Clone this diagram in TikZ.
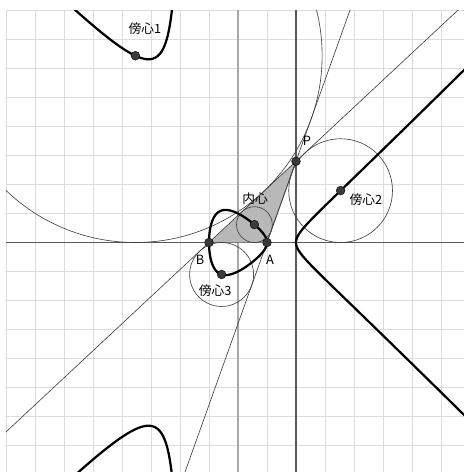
\documentclass[tikz,border=0pt]{standalone}
\usepackage{fontspec}
\newfontfamily\jpfont{Noto Sans CJK JP}
\usetikzlibrary{calc}
\definecolor{ggGrid}{HTML}{DCDCDC}
\definecolor{ggAxisX}{HTML}{5A5A5A}
\definecolor{ggAxisY}{HTML}{A8A8A8}
\definecolor{ggLine}{HTML}{3C3C3C}
\definecolor{ggFill}{HTML}{B8B8B8}
\definecolor{ggDot}{HTML}{3A3A3A}

\begin{document}
\begin{tikzpicture}[
  declare function={
    pa(\t)=sqrt(9+\t*\t); pb(\t)=sqrt(1+\t*\t);
    inx(\t)=(pa(\t)-pb(\t)+4)/(pa(\t)+pb(\t)+2);
    iny(\t)=2*\t/(pa(\t)+pb(\t)+2);
    eax(\t)=(4-pa(\t)-pb(\t))/(2+pb(\t)-pa(\t));
    eay(\t)=2*\t/(2+pb(\t)-pa(\t));
    ebx(\t)=(pa(\t)+pb(\t)+4)/(pa(\t)-pb(\t)+2);
    eby(\t)=2*\t/(pa(\t)-pb(\t)+2);
    ecx(\t)=(pa(\t)-pb(\t)-4)/(pa(\t)+pb(\t)-2);
    ecy(\t)=-2*\t/(pa(\t)+pb(\t)-2);
  },
  sideline/.style={ggLine, line width=0.6pt},
  locus/.style={black, line width=2.2pt, line join=round},
  lbl/.style={font=\jpfont\fontsize{12.5}{14}\selectfont, inner sep=0pt},
]
  % P runs on the line x=2, triangle ABP with A=(1,0), B=(-1,0)
  \def\tP{2.8}
  \fill[white] (-8.207,-7.914) rectangle (7.793,8.362);
  \useasboundingbox (-8.207,-7.914) rectangle (7.793,8.362);
  \clip (-8,-7.914) rectangle (7.793,7.983);
  \coordinate (A) at (1,0);
  \coordinate (B) at (-1,0);
  \coordinate (P) at (2,\tP);
  \coordinate (I) at ({inx(\tP)},{iny(\tP)});
  \coordinate (E1) at ({eax(\tP)},{eay(\tP)});
  \coordinate (E2) at ({ebx(\tP)},{eby(\tP)});
  \coordinate (E3) at ({ecx(\tP)},{ecy(\tP)});
  % grid and axes
  \draw[ggGrid, line width=0.5pt] (-8,-8) grid (8,8);
  \draw[ggAxisY, line width=2.2pt] (0,-8) -- (0,8);
  \draw[ggAxisX, line width=1.6pt] (-8,0) -- (8,0);
  \draw[ggAxisX, line width=1.1pt] (2,-8) -- (2,8);
  % triangle
  \fill[ggFill] (A) -- (B) -- (P) -- cycle;
  \draw[sideline] (A) -- (P);
  % incircle and excircles
  \draw[sideline] (I) circle[radius={iny(\tP)}];
  \draw[sideline] (E1) circle[radius={eay(\tP)}];
  \draw[sideline] (E2) circle[radius={eby(\tP)}];
  \draw[sideline] (E3) circle[radius={-ecy(\tP)}];
  % side lines
  \draw[sideline] ($(B)!-4!(P)$) -- ($(B)!4!(P)$);
  \draw[sideline] ($(A)!-4!(P)$) -- ($(A)!4!(P)$);
  % loci
  \draw[locus] plot[domain=-89:89, samples=241, variable=\u] ({inx(tan(\u))},{iny(tan(\u))})
    -- plot[domain=-89:89, samples=241, variable=\u] ({ecx(tan(\u))},{ecy(tan(\u))}) -- cycle;
  \draw[locus] plot[domain=0.6:8, samples=160, variable=\t] ({eax(\t)},{eay(\t)});
  \draw[locus] plot[domain=-8:-0.6, samples=160, variable=\t] ({eax(\t)},{eay(\t)});
  \draw[locus] plot[domain=-9:9, samples=200, variable=\t] ({ebx(\t)},{eby(\t)});
  % points
  \foreach \p in {A,B,P,I,E1,E2,E3}
    \fill[ggDot, draw=black, line width=0.4pt] (\p) circle (4.3pt);
  % labels
  \node[lbl] (labA) at (1.10,-0.60) {A};
  \node[lbl] (labB) at (-1.31,-0.60) {B};
  \node[lbl] (labP) at (2.38,3.50) {P};
  \node[lbl] (labI) at (0.59,1.50) {内心};
  \node[lbl] (labE1) at (-3.21,7.36) {傍心1};
  \node[lbl] (labE2) at (4.41,1.47) {傍心2};
  \node[lbl] (labE3) at (-0.79,-1.67) {傍心3};
\end{tikzpicture}
\end{document}
